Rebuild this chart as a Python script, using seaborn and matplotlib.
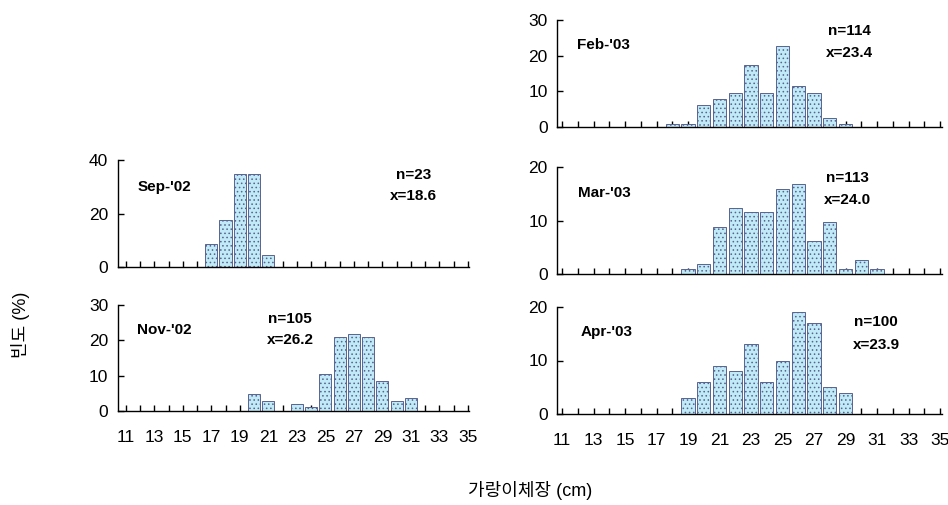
import matplotlib
matplotlib.use("Agg")
import matplotlib.pyplot as plt
import seaborn as sns
import pandas as pd

# fork length classes (cm) and frequency (%) per month
lengths = list(range(11, 36))

sep_02 = [0, 0, 0, 0, 0, 0, 8.7, 17.4, 34.8, 34.8, 4.3, 0, 0, 0, 0, 0, 0, 0, 0, 0, 0, 0, 0, 0, 0]
nov_02 = [0, 0, 0, 0, 0, 0, 0, 0, 0, 4.8, 2.9, 0, 1.9, 1.0, 10.5, 21.0, 21.9, 21.0, 8.6, 2.9, 3.8, 0, 0, 0, 0]
feb_03 = [0, 0, 0, 0, 0, 0, 0, 0.9, 0.9, 6.1, 7.9, 9.6, 17.5, 9.6, 22.8, 11.4, 9.6, 2.6, 0.9, 0, 0, 0, 0, 0, 0]
mar_03 = [0, 0, 0, 0, 0, 0, 0, 0, 0.9, 1.8, 8.8, 12.4, 11.5, 11.5, 15.9, 16.8, 6.2, 9.7, 0.9, 2.7, 0.9, 0, 0, 0, 0]
apr_03 = [0, 0, 0, 0, 0, 0, 0, 0, 3, 6, 9, 8, 13, 6, 10, 19, 17, 5, 4, 0, 0, 0, 0, 0, 0]

month_labels = ["Sep-'02", "Nov-'02", "Feb-'03", "Mar-'03", "Apr-'03"]
n_labels = ["n=23", "n=105", "n=114", "n=113", "n=100"]
mean_labels = ["x=18.6", "x=26.2", "x=23.4", "x=24.0", "x=23.9"]
y_max = [40, 30, 30, 20, 20]
y_step = [20, 10, 10, 10, 10]

sns.set_style("ticks")
plt.rcParams['font.family'] = ['Liberation Sans', 'Noto Sans CJK KR']
plt.rcParams['hatch.linewidth'] = 0.6
plt.rcParams['text.color'] = 'black'
plt.rcParams['xtick.color'] = 'black'
plt.rcParams['ytick.color'] = 'black'

fig = plt.figure(figsize=(9.48, 5.05), dpi=100)

# axes boxes in pixels: (left, right, y of zero, y of top, xlim)
W, H = 948, 505
boxes = [
    (117.9, 469.4, 267, 160, (10.45, 35.1)),
    (117.9, 469.4, 411, 305, (10.45, 35.1)),
    (557.3, 941.6, 127, 20, (10.7, 35.1)),
    (557.3, 941.6, 274, 167, (10.7, 35.1)),
    (557.3, 941.6, 414, 307, (10.7, 35.1)),
]
# text positions (axes fraction): month label, n label, mean label
text_pos = [
    ((0.055, 0.75), (0.84, 0.86), (0.84, 0.66)),
    ((0.055, 0.76), (0.49, 0.87), (0.49, 0.67)),
    ((0.052, 0.77), (0.76, 0.90), (0.76, 0.69)),
    ((0.055, 0.76), (0.755, 0.90), (0.755, 0.69)),
    ((0.06, 0.77), (0.83, 0.86), (0.83, 0.645)),
]
series = [sep_02, nov_02, feb_03, mar_03, apr_03]
bottom_row = [False, True, False, False, True]

for i, vals in enumerate(series):
    l, r, y0, y1, xl = boxes[i]
    ax = fig.add_axes([l / W, 1 - y0 / H, (r - l) / W, (y0 - y1) / H])
    df = pd.DataFrame({"length": lengths, "pct": vals})
    df = df[df["pct"] > 0]
    sns.barplot(data=df, x="length", y="pct", native_scale=True, width=0.85,
                color="#bfeaf6", edgecolor="#5a6290", linewidth=0.7,
                saturation=1, ax=ax)
    for p in ax.patches:
        p.set_hatch("....")
    ax.set_xlim(*xl)
    ax.set_ylim(0, y_max[i])
    ax.set_yticks(range(0, y_max[i] + 1, y_step[i]))
    ax.set_xticks(lengths)
    if bottom_row[i]:
        ax.set_xticklabels([str(v) if v % 2 else "" for v in lengths])
    else:
        ax.set_xticklabels([])
    ax.set_xlabel("")
    ax.set_ylabel("")
    sns.despine(ax=ax)
    for s in ["left", "bottom"]:
        ax.spines[s].set_color("black")
        ax.spines[s].set_linewidth(1.0)
    ax.tick_params(axis="both", direction="in", length=4, width=1.0,
                   labelsize=12.5, colors="black")
    ax.tick_params(axis="y", pad=7)
    ax.tick_params(axis="x", pad=14)
    (mx, my), (nx, ny), (kx, ky) = text_pos[i]
    ax.text(mx, my, month_labels[i], transform=ax.transAxes, fontsize=11,
            fontweight="bold", ha="left", va="center")
    ax.text(nx, ny, n_labels[i], transform=ax.transAxes, fontsize=11,
            fontweight="bold", ha="center", va="center")
    ax.text(kx, ky, mean_labels[i], transform=ax.transAxes, fontsize=11,
            fontweight="bold", ha="center", va="center")

fig.text(20 / W, 1 - 325 / H, "빈도 (%)", rotation=90, ha="center", va="center",
         fontsize=13)
fig.text(530 / W, 1 - 490 / H, "가랑이체장 (cm)", ha="center", va="center",
         fontsize=13)

fig.savefig("out.png", dpi=100, facecolor="white")
